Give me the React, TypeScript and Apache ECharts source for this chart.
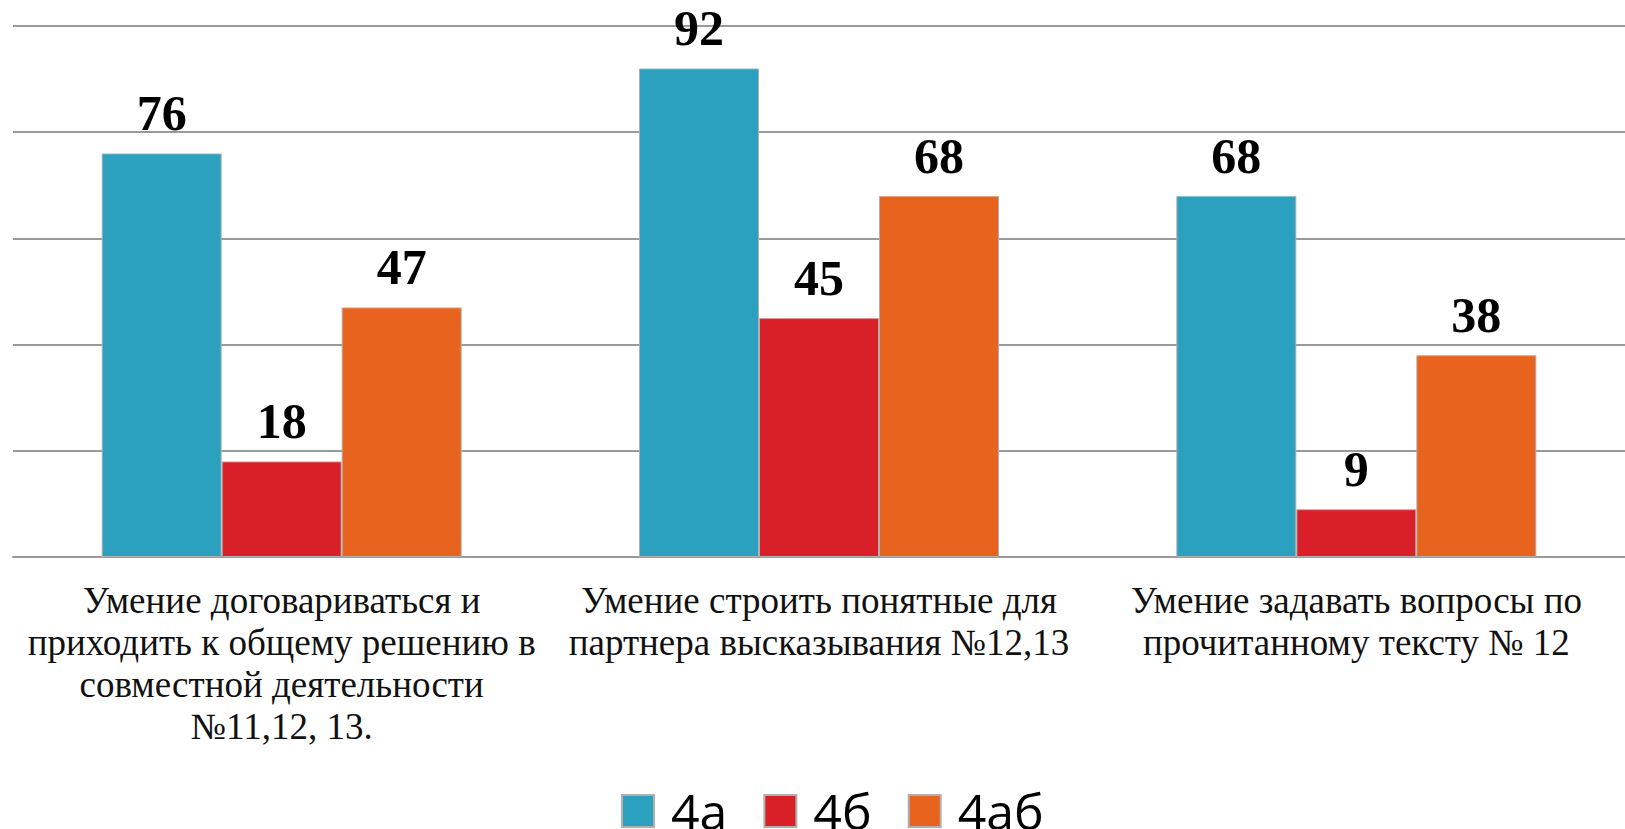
import React, { useEffect, useRef } from "react";
import * as echarts from "echarts";

const categories = [
  "Умение договариваться и\nприходить к общему решению в\nсовместной деятельности\n№11,12, 13.",
  "Умение строить понятные для\nпартнера высказывания №12,13",
  "Умение задавать вопросы по\nпрочитанному тексту № 12",
];
const seriesNames = ["4а", "4б", "4аб"];
const values4a = [76, 92, 68];
const values4b = [18, 45, 9];
const values4ab = [47, 68, 38];
const colors = ["#2CA1BF", "#D92029", "#E8631E"];

const SERIF = "'Liberation Serif', 'Times New Roman', 'DejaVu Serif', serif";

export default function App() {
  const ref = useRef<HTMLDivElement>(null);
  useEffect(() => {
    if (!ref.current) return;
    const chart = echarts.init(ref.current, undefined, { renderer: "svg" });
    const data = [values4a, values4b, values4ab];
    chart.setOption({
      animation: false,
      backgroundColor: "#ffffff",
      grid: { left: 13, right: -21, top: 26, bottom: 272, containLabel: false },
      legend: {
        top: 786,
        left: 621,
        padding: 0,
        itemWidth: 32,
        itemHeight: 32,
        itemGap: 36,
        icon: "rect",
        textStyle: {
          fontFamily: "'Open Sans', 'Noto Sans', sans-serif",
          fontSize: 50,
          lineHeight: 40,
          color: "#000",
          padding: [0, 0, 0, 12],
        },
        data: seriesNames,
      },
      xAxis: {
        type: "category",
        data: categories,
        axisTick: { show: false },
        axisLine: { show: true, lineStyle: { color: "#9a9a9a", width: 2 } },
        axisLabel: {
          interval: 0,
          fontFamily: SERIF,
          fontSize: 37,
          lineHeight: 42,
          color: "#111",
          margin: 22,
          align: "center",
        },
      },
      yAxis: {
        type: "value",
        min: 0,
        max: 100,
        interval: 20,
        axisLabel: { show: false },
        axisLine: { show: false },
        axisTick: { show: false },
        splitLine: { lineStyle: { color: "#9a9a9a", width: 2 } },
      },
      series: seriesNames.map((name, i) => ({
        name,
        type: "bar",
        data: data[i],
        barWidth: 120,
        barGap: "0%",
        itemStyle: { color: colors[i], borderColor: "#b0b0b0", borderWidth: 1 },
        label: {
          show: true,
          position: "top",
          distance: 15,
          fontFamily: SERIF,
          fontWeight: "bold",
          fontSize: 50,
          color: "#000",
        },
      })),
    });
    return () => chart.dispose();
  }, []);
  return (
    <div
      ref={ref}
      style={{ position: "fixed", left: 0, top: 0, width: 1625, height: 829 }}
    />
  );
}
